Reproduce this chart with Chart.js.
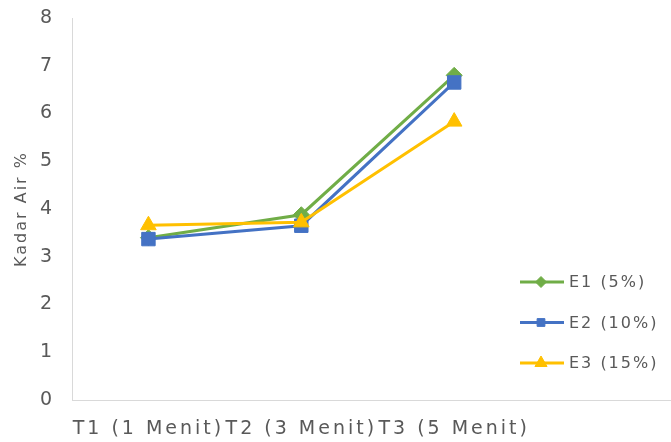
<!DOCTYPE html>
<html>
<head>
<meta charset="utf-8">
<script src="https://cdn.jsdelivr.net/npm/chart.js@4.4.1/dist/chart.umd.min.js"></script>
<style>
  html, body { margin: 0; padding: 0; background: #fff; overflow: hidden; }
</style>
</head>
<body>
<canvas id="kadarChart" width="694" height="442"></canvas>
<script>
// data
var timeLabels = ['T1 (1 Menit)', 'T2 (3 Menit)', 'T3 (5 Menit)', ''];
var e1Values = [3.4, 3.88, 6.8];
var e2Values = [3.37, 3.65, 6.65];
var e3Values = [3.66, 3.72, 5.83];
var seriesNames = ['E1 (5%)', 'E2 (10%)', 'E3 (15%)'];

var textColor = '#595959';
var axisColor = '#d9d9d9';

// the reference text is spaced out, chart.js has no option for that
var spacingPlugin = {
    id: 'spacing',
    beforeDraw: function(chart) {
        chart.ctx.letterSpacing = '2px';
    },
    afterDatasetsDraw: function(chart) {
        chart.ctx.letterSpacing = '3px';
    }
};

// legend sits inside the plot area on the right
var insideLegend = {
    id: 'insideLegend',
    afterDraw: function(chart) {
        var ctx = chart.ctx;
        var rows = [282, 322.5, 363];
        var sizes = [5.5, 5.5, 7];
        ctx.save();
        ctx.letterSpacing = '2px';
        chart.data.datasets.forEach(function(ds, i) {
            var y = rows[i];
            ctx.strokeStyle = ds.borderColor;
            ctx.fillStyle = ds.borderColor;
            ctx.lineWidth = 3;
            ctx.beginPath();
            ctx.moveTo(520, y);
            ctx.lineTo(564, y);
            ctx.stroke();
            ctx.lineWidth = 1;
            Chart.helpers.drawPoint(ctx, {
                pointStyle: ds.pointStyle,
                radius: sizes[i],
                rotation: 0,
                borderWidth: 1
            }, 541, y);
            ctx.fillStyle = textColor;
            ctx.font = '16px "DejaVu Sans"';
            ctx.textAlign = 'left';
            ctx.textBaseline = 'middle';
            ctx.fillText(ds.label, 569, y + 1);
        });
        ctx.restore();
    }
};

function makeSeries(name, values, color, style, radius, order) {
    return {
        label: name,
        data: values,
        borderColor: color,
        backgroundColor: color,
        pointBackgroundColor: color,
        pointBorderColor: color,
        borderWidth: 3,
        pointStyle: style,
        pointRadius: radius,
        pointBorderWidth: 1,
        tension: 0,
        fill: false,
        order: order
    };
}

var ctx = document.getElementById('kadarChart');
var kadarChart = new Chart(ctx, {
    type: 'line',
    data: {
        labels: timeLabels,
        datasets: [
            makeSeries(seriesNames[0], e1Values, '#70AD47', 'rectRot', 8, 2),
            makeSeries(seriesNames[1], e2Values, '#4472C4', 'rect', 9.5, 1),
            makeSeries(seriesNames[2], e3Values, '#FFC000', 'triangle', 9, 0)
        ]
    },
    options: {
        responsive: false,
        animation: false,
        layout: { padding: { top: 18, right: 2, bottom: 0, left: 0 } },
        plugins: {
            legend: { display: false },
            tooltip: { enabled: false }
        },
        scales: {
            x: {
                offset: true,
                grid: { display: false, drawTicks: false },
                border: { display: true, color: axisColor, width: 1 },
                ticks: {
                    z: 1,
                    autoSkip: false,
                    maxRotation: 0,
                    minRotation: 0,
                    padding: 18,
                    color: textColor,
                    font: { family: 'DejaVu Sans', size: 19 }
                },
                afterFit: function(scale) {
                    scale.height = 42;
                    scale.paddingLeft = 0;
                    scale.paddingRight = 0;
                }
            },
            y: {
                min: 0,
                max: 8,
                ticks: {
                    stepSize: 1,
                    padding: 18,
                    color: textColor,
                    font: { family: 'DejaVu Sans', size: 19 }
                },
                grid: { display: false, drawTicks: false },
                border: { display: true, color: axisColor, width: 1 },
                title: {
                    display: true,
                    text: 'Kadar Air %',
                    color: textColor,
                    font: { family: 'DejaVu Sans', size: 16 },
                    padding: { top: 12, bottom: 0 }
                },
                afterFit: function(scale) {
                    scale.width = 72;
                    scale.paddingTop = 0;
                    scale.paddingBottom = 0;
                }
            }
        }
    },
    plugins: [spacingPlugin, insideLegend]
});
</script>
</body>
</html>
